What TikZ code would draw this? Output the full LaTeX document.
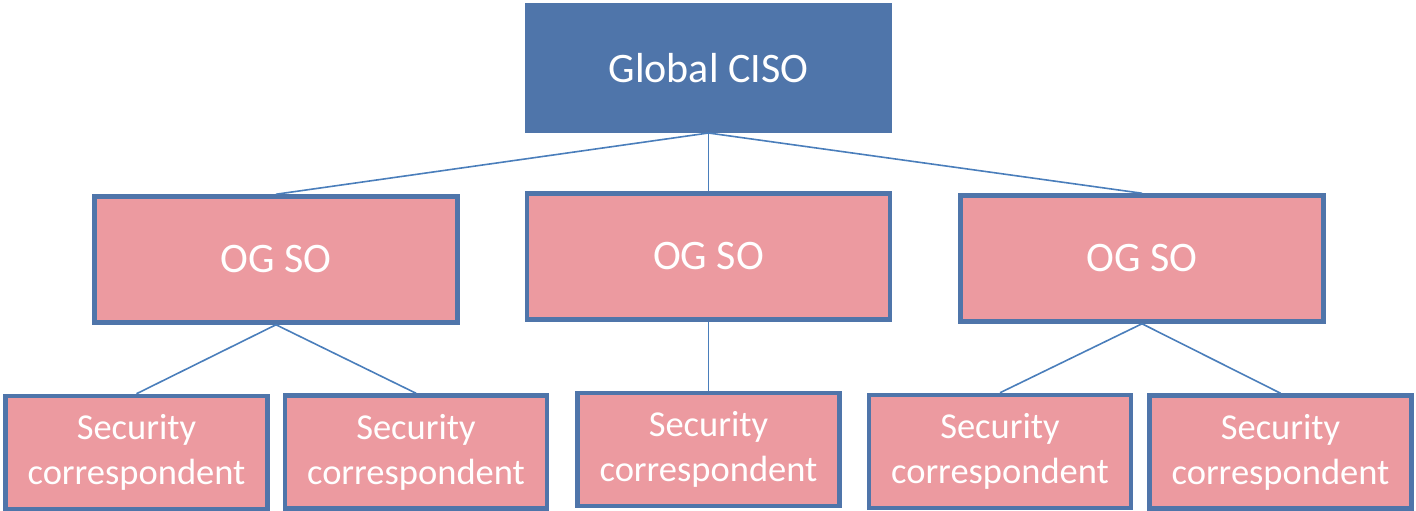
\documentclass[tikz,border=0pt]{standalone}
\usepackage{fontspec}
\setmainfont{Carlito}
\definecolor{cisoblue}{RGB}{79,117,170}
\definecolor{boxpink}{RGB}{236,154,160}
\definecolor{lineblue}{RGB}{74,126,187}
\begin{document}
\begin{tikzpicture}[x=1pt,y=-1pt,
  ciso/.style={rectangle, fill=cisoblue, draw=cisoblue, line width=1pt, minimum width=366pt, minimum height=129pt, inner sep=0pt, text=white, font=\fontsize{42}{46}\selectfont},
  ogso/.style={rectangle, fill=boxpink, draw=cisoblue, line width=4.5pt, minimum width=363pt, minimum height=126pt, inner sep=0pt, text=white, font=\fontsize{42}{46}\selectfont},
  corr/.style={rectangle, fill=boxpink, draw=cisoblue, line width=4.5pt, minimum width=262pt, minimum height=113pt, inner sep=0pt, text=white, align=center, font=\fontsize{36.5}{45}\selectfont},
  conn/.style={draw=lineblue, line width=1.6pt}]
\useasboundingbox (0,0) rectangle (1416,511);
\node[ciso] (c) at (708.5,68) {Global CISO};
\node[ogso] (o1) at (276,259.5) {OG SO};
\node[ogso] (o2) at (708.5,256.5) {OG SO};
\node[ogso] (o3) at (1142,258.5) {OG SO};
\node[corr] (s1) at (136.5,452.5) {Security\\correspondent};
\node[corr] (s2) at (416,452) {Security\\correspondent};
\node[corr] (s3) at (708.5,449.5) {Security\\correspondent};
\node[corr] (s4) at (1000,451.5) {Security\\correspondent};
\node[corr] (s5) at (1280.5,452) {Security\\correspondent};
\draw[conn] (c.south) -- (o1.north);
\draw[conn] (c.south) -- (o2.north);
\draw[conn] (c.south) -- (o3.north);
\draw[conn] (o1.south) -- (s1.north);
\draw[conn] (o1.south) -- (s2.north);
\draw[conn] (o2.south) -- (s3.north);
\draw[conn] (o3.south) -- (s4.north);
\draw[conn] (o3.south) -- (s5.north);
\end{tikzpicture}
\end{document}
